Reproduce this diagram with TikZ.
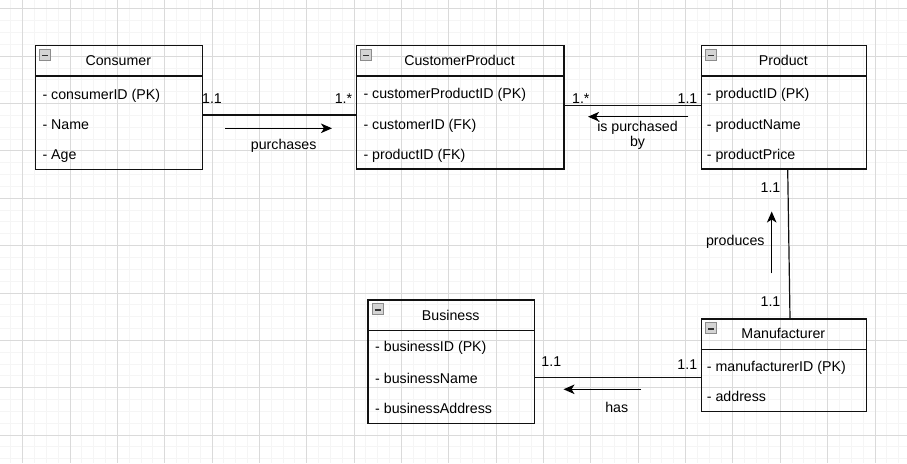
\documentclass[tikz,border=0pt]{standalone}
\usepackage{fontspec}
\setmainfont{Liberation Sans}
\usetikzlibrary{arrows.meta}
\definecolor{minorc}{HTML}{F5F5F5}
\definecolor{majorc}{HTML}{DADADA}
\definecolor{strokec}{HTML}{111111}
\definecolor{iconfill}{HTML}{D4D4D4}
\definecolor{iconborder}{HTML}{8C8C8C}
\tikzset{
  minorgrid/.style={draw=minorc, line width=1pt},
  majorgrid/.style={draw=majorc, line width=1pt},
  entity/.style={draw=strokec, line width=1.2pt, inner sep=0pt, anchor=north west},
  sepline/.style={draw=strokec, line width=1.2pt},
  txt/.style={inner sep=0pt, font=\fontsize{14.2}{17}\selectfont, text=black},
  titletxt/.style={txt, anchor=base},
  attr/.style={txt, anchor=base west},
  lbl/.style={txt, anchor=base},
  conn/.style={draw=strokec, line width=1.2pt},
  arr/.style={draw=black, line width=1.2pt, -{Stealth[length=11pt,width=9.5pt,inset=3pt]}},
  iconbox/.style={fill=iconfill, draw=iconborder, line width=0.8pt},
  iconbar/.style={draw=black!80, line width=1.6pt}
}
\begin{document}
\begin{tikzpicture}[x=1pt,y=-1pt]
\useasboundingbox (0,0) rectangle (907,463);
\fill[white] (0,0) rectangle (907,463);
% grid
\foreach \i in {-2,...,77} { \draw[minorgrid] ({22.7+11.8375*\i},0) -- ({22.7+11.8375*\i},463); }
\foreach \i in {-1,...,39} { \draw[minorgrid] (0,{8.9+11.8375*\i}) -- (907,{8.9+11.8375*\i}); }
\foreach \i in {0,...,19} { \draw[majorgrid] ({22.7+47.35*\i},0) -- ({22.7+47.35*\i},463); }
\foreach \i in {0,...,9} { \draw[majorgrid] (0,{8.9+47.35*\i}) -- (907,{8.9+47.35*\i}); }

% ---------- Consumer
\node[entity, minimum width=166.7pt, minimum height=124pt] (consumer) at (35,45) {};
\draw[sepline] (35,76) -- (201.7,76);
\draw[iconbox] (39.5,49.5) rectangle (50.5,60.5);
\draw[iconbar] (42,55.5) -- (48,55.5);
\node[titletxt] (consumerT) at (118.3,65.7) {Consumer};
\node[attr] (consumerA1) at (42.3,99) {- consumerID (PK)};
\node[attr] (consumerA2) at (42.3,129) {- Name};
\node[attr] (consumerA3) at (42.3,159.3) {- Age};

% ---------- CustomerProduct
\node[entity, minimum width=207.6pt, minimum height=123.3pt] (cp) at (355.7,45) {};
\draw[sepline] (355.7,76) -- (563.3,76);
\draw[iconbox] (360.5,49.5) rectangle (371.5,60.5);
\draw[iconbar] (363,55.5) -- (369,55.5);
\node[titletxt] (cpT) at (459.5,65.7) {CustomerProduct};
\node[attr] (cpA1) at (363.3,98.8) {- customerProductID (PK)};
\node[attr] (cpA2) at (363.3,129) {- customerID (FK)};
\node[attr] (cpA3) at (363.3,159.3) {- productID (FK)};

% ---------- Product
\node[entity, minimum width=165.3pt, minimum height=123.3pt] (product) at (700.7,45) {};
\draw[sepline] (700.7,76) -- (866,76);
\draw[iconbox] (705.5,49.5) rectangle (716.5,60.5);
\draw[iconbar] (708,55.5) -- (714,55.5);
\node[titletxt] (productT) at (783.3,65.7) {Product};
\node[attr] (productA1) at (706.7,98.8) {- productID (PK)};
\node[attr] (productA2) at (706.7,129) {- productName};
\node[attr] (productA3) at (706.7,159.3) {- productPrice};

% ---------- Manufacturer
\node[entity, minimum width=165.3pt, minimum height=92.4pt] (manu) at (700.7,318.3) {};
\draw[sepline] (700.7,349.3) -- (866,349.3);
\draw[iconbox] (705.5,322.8) rectangle (716.5,333.8);
\draw[iconbar] (708,328.8) -- (714,328.8);
\node[titletxt] (manuT) at (783.3,338.8) {Manufacturer};
\node[attr] (manuA1) at (706.7,371) {- manufacturerID (PK)};
\node[attr] (manuA2) at (706.7,401.7) {- address};

% ---------- Business
\node[entity, minimum width=166.7pt, minimum height=123.4pt] (business) at (367.3,299.3) {};
\draw[sepline] (367.3,330.7) -- (534,330.7);
\draw[iconbox] (372,303.8) rectangle (383,314.8);
\draw[iconbar] (374.5,309.8) -- (380.5,309.8);
\node[titletxt] (businessT) at (450.7,320) {Business};
\node[attr] (businessA1) at (375,351.7) {- businessID (PK)};
\node[attr] (businessA2) at (375,383.3) {- businessName};
\node[attr] (businessA3) at (375,413.3) {- businessAddress};

% ---------- connectors
\coordinate (y1) at (0,115);
\coordinate (y2) at (0,105.3);
\coordinate (y4) at (0,377.7);
\coordinate (x3a) at (787.7,0);
\coordinate (x3b) at (790,0);
\draw[conn] (consumer.east |- y1) -- (cp.west |- y1);
\draw[conn] (cp.east |- y2) -- (product.west |- y2);
\draw[conn] (x3a |- product.south) -- (x3b |- manu.north);
\draw[conn] (manu.west |- y4) -- (business.east |- y4);

% ---------- direction arrows
\coordinate (a1s) at (225,128.3);
\coordinate (a1e) at (332,128.3);
\coordinate (a2s) at (688.3,116.7);
\coordinate (a2e) at (588,116.7);
\coordinate (a3s) at (771.7,273.3);
\coordinate (a3e) at (771.7,211.5);
\coordinate (a4s) at (641,389.3);
\coordinate (a4e) at (563.5,389.3);
\draw[arr] (a1s) -- (a1e);
\draw[arr] (a2s) -- (a2e);
\draw[arr] (a3s) -- (a3e);
\draw[arr] (a4s) -- (a4e);

% ---------- labels
\node[lbl] (m1a) at (212,103.3) {1.1};
\node[lbl] (m1b) at (343.5,103.3) {1.*};
\node[lbl] (l1) at (283.7,149.5) {purchases};
\node[lbl] (m2a) at (580.8,103.3) {1.*};
\node[lbl] (m2b) at (687.5,103.3) {1.1};
\node[lbl] (l2a) at (637.5,131.2) {is purchased};
\node[lbl] (l2b) at (637.5,146.5) {by};
\node[lbl] (m3a) at (770.5,192.3) {1.1};
\node[lbl] (m3b) at (770.5,306) {1.1};
\node[lbl] (l3) at (735.3,245) {produces};
\node[lbl] (m4a) at (551.3,366) {1.1};
\node[lbl] (m4b) at (687.3,369.3) {1.1};
\node[lbl] (l4) at (616.7,412.7) {has};
\end{tikzpicture}
\end{document}
